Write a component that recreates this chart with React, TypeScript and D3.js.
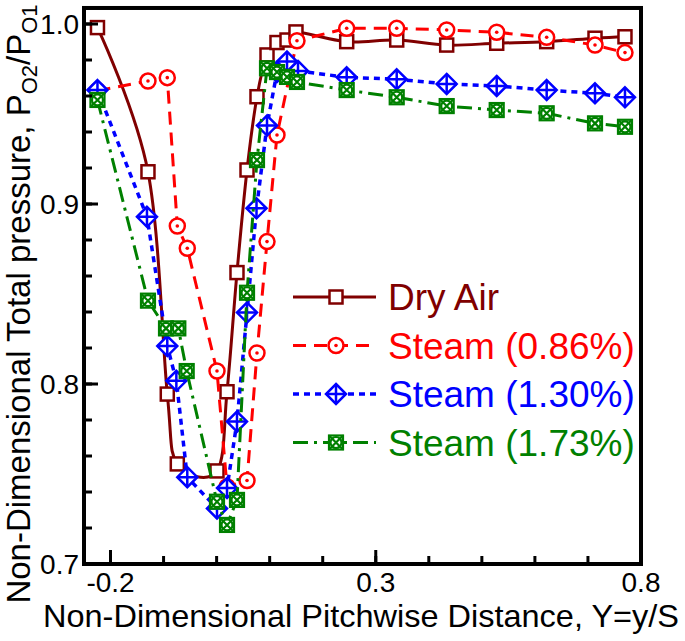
import * as d3 from 'd3'

// pitchwise stations (right-hand, evenly spaced part shared by all series)
const rightX = [0.2452, 0.3395, 0.4337, 0.528, 0.6222, 0.7133, 0.7698]

const dryAirX = [-0.2246, -0.1294, -0.093, -0.0741, 0.0007, 0.0196, 0.0384, 0.0573, 0.0761, 0.095, 0.1138, 0.1327, 0.1496, ...rightX]
const dryAirY = [0.998, 0.9179, 0.7944, 0.7556, 0.7517, 0.7957, 0.8619, 0.9189, 0.9596, 0.9828, 0.9897, 0.9911, 0.9956, 0.9902, 0.9911, 0.9883, 0.9893, 0.9902, 0.9921, 0.9929]

const steam086X = [-0.2246, -0.1294, -0.093, -0.0741, -0.0553, 0.0007, 0.0196, 0.0573, 0.0761, 0.095, 0.1138, 0.1515, ...rightX]
const steam086Y = [0.963, 0.9683, 0.9702, 0.8878, 0.8754, 0.8072, 0.7429, 0.7464, 0.8172, 0.8791, 0.9383, 0.9907, 0.9976, 0.9976, 0.9967, 0.9954, 0.9926, 0.9883, 0.9841]

const steam130X = [-0.2246, -0.1313, -0.093, -0.0759, -0.0553, 0.0007, 0.0196, 0.0384, 0.0573, 0.0752, 0.095, 0.1138, 0.1327, 0.1534, ...rightX]
const steam130Y = [0.9633, 0.8929, 0.8211, 0.8018, 0.7482, 0.7309, 0.7422, 0.7791, 0.8397, 0.8976, 0.9436, 0.9733, 0.9791, 0.9739, 0.9704, 0.9693, 0.9667, 0.9656, 0.9633, 0.9615, 0.9593]

const steam173X = [-0.2246, -0.1294, -0.0954, -0.0722, -0.0564, 0.0007, 0.0196, 0.0384, 0.0573, 0.0761, 0.095, 0.1138, 0.1327, 0.1515, ...rightX]
const steam173Y = [0.9578, 0.8463, 0.8309, 0.8309, 0.8072, 0.7346, 0.7217, 0.7356, 0.8507, 0.9244, 0.9754, 0.9733, 0.9706, 0.9678, 0.9633, 0.9593, 0.9544, 0.9522, 0.9504, 0.9448, 0.9429]

const seriesNames = ['Dry Air', 'Steam (0.86%)', 'Steam (1.30%)', 'Steam (1.73%)']
const seriesColors = ['#800000', '#ff0000', '#0000ff', '#008000']

const xTickLabels = ['-0.2', '0.3', '0.8']
const yTickLabels = ['0.7', '0.8', '0.9', '1.0']

const W = 685
const H = 641
const xDomain: [number, number] = [-0.25, 0.8]
const yDomain: [number, number] = [0.7, 1.0]
const yTop = 1.0089

const x = d3.scaleLinear().domain(xDomain).range([84, 641])
const y = d3.scaleLinear().domain(yDomain).range([564, 24])

interface Pt {
  x: number
  y: number
}

const zip = (xs: number[], ys: number[]): Pt[] => xs.map((v, i) => ({ x: v, y: ys[i] }))

const straight = d3
  .line<Pt>()
  .x((d) => x(d.x))
  .y((d) => y(d.y))

// dry air is drawn as a smoothed curve through the points
const smooth = d3
  .line<Pt>()
  .x((d) => x(d.x))
  .y((d) => y(d.y))
  .curve(d3.curveCatmullRom.alpha(0))

const dashes = [null, '13,8', '6,5', '15,6,3,6']
const widths = [3, 3, 3.5, 3]

function Marker({ kind, cx, cy }: { kind: number; cx: number; cy: number }) {
  const c = seriesColors[kind]
  if (kind === 0)
    return <rect x={cx - 6.5} y={cy - 6.5} width={13} height={13} fill="#fff" stroke={c} strokeWidth={2.5} />
  if (kind === 1)
    return (
      <g>
        <circle cx={cx} cy={cy} r={7.5} fill="#fff" stroke={c} strokeWidth={2.5} />
        <circle cx={cx} cy={cy} r={1.8} fill={c} />
      </g>
    )
  if (kind === 2)
    return (
      <g fill="none" stroke={c} strokeWidth={2.5}>
        <path d={`M${cx},${cy - 10}L${cx + 10},${cy}L${cx},${cy + 10}L${cx - 10},${cy}Z`} fill="#fff" />
        <path d={`M${cx},${cy - 10}V${cy + 10}M${cx - 10},${cy}H${cx + 10}`} />
      </g>
    )
  return (
    <g fill="none" stroke={c} strokeWidth={2.2}>
      <rect x={cx - 7} y={cy - 7} width={14} height={14} fill="#fff" />
      <path d={`M${cx - 7},${cy - 7}L${cx + 7},${cy + 7}M${cx + 7},${cy - 7}L${cx - 7},${cy + 7}`} />
      <circle cx={cx} cy={cy} r={5.5} />
    </g>
  )
}

export default function App() {
  const data = [zip(dryAirX, dryAirY), zip(steam086X, steam086Y), zip(steam130X, steam130Y), zip(steam173X, steam173Y)]

  const xMinor = d3.range(-0.2, 0.81, 0.1)
  const yMinor = d3.range(0.7, 1.001, 0.02)
  const xMajor = xTickLabels.map(Number)
  const yMajor = yTickLabels.map(Number)

  const left = x(xDomain[0])
  const right = x(xDomain[1])
  const bottom = y(yDomain[0])
  const top = y(yTop)

  return (
    <svg
      width={W}
      height={H}
      viewBox={`0 0 ${W} ${H}`}
      style={{ position: 'absolute', left: 0, top: 0, background: '#fff' }}
      fontFamily="'Liberation Sans', Arial, sans-serif"
    >
      {/* series */}
      {data.map((pts, i) => (
        <g key={i}>
          <path
            d={(i === 0 ? smooth(pts) : straight(pts)) || undefined}
            fill="none"
            stroke={seriesColors[i]}
            strokeWidth={widths[i]}
            strokeDasharray={dashes[i] || undefined}
          />
          {pts.map((p, j) => (
            <Marker key={j} kind={i} cx={x(p.x)} cy={y(p.y)} />
          ))}
        </g>
      ))}

      {/* ticks */}
      <g stroke="#000" strokeWidth={3}>
        {xMinor.map((t, i) => (
          <line key={'xm' + i} x1={x(t)} x2={x(t)} y1={bottom} y2={bottom - 8} />
        ))}
        {xMajor.map((t, i) => (
          <line key={'xM' + i} x1={x(t)} x2={x(t)} y1={bottom} y2={bottom - 14} />
        ))}
        {yMinor.map((t, i) => (
          <line key={'ym' + i} x1={left} x2={left + 8} y1={y(t)} y2={y(t)} />
        ))}
        {yMajor.map((t, i) => (
          <line key={'yM' + i} x1={left} x2={left + 14} y1={y(t)} y2={y(t)} />
        ))}
      </g>
      <rect x={left} y={top} width={right - left} height={bottom - top} fill="none" stroke="#000" strokeWidth={4} />

      {/* tick labels */}
      <g fontSize={28} fill="#000">
        {xTickLabels.map((t, i) => (
          <text key={t} x={x(xMajor[i])} y={592} textAnchor="middle">
            {t}
          </text>
        ))}
        {yTickLabels.map((t, i) => (
          <text key={t} x={79} y={y(yMajor[i]) + 10} textAnchor="end">
            {t}
          </text>
        ))}
      </g>

      {/* axis titles */}
      <text x={361} y={627} fontSize={32} textAnchor="middle" textLength={636} lengthAdjust="spacingAndGlyphs">
        Non-Dimensional Pitchwise Distance, Y=y/S
      </text>
      <text transform="translate(30,304) rotate(-90)" fontSize={33} textAnchor="middle">
        Non-Dimensional Total pressure, P
        <tspan fontSize={22} dy={7}>O2</tspan>
        <tspan dy={-7}>/P</tspan>
        <tspan fontSize={22} dy={7}>O1</tspan>
      </text>

      {/* legend */}
      {seriesNames.map((name, i) => {
        const ly = 297 + i * 48.5
        return (
          <g key={name}>
            <line
              x1={293}
              x2={376}
              y1={ly}
              y2={ly}
              stroke={seriesColors[i]}
              strokeWidth={widths[i]}
              strokeDasharray={dashes[i] || undefined}
            />
            <Marker kind={i} cx={336} cy={ly} />
            <text x={388} y={ly + 13} fontSize={37} fill={seriesColors[i]}>
              {name}
            </text>
          </g>
        )
      })}
    </svg>
  )
}
